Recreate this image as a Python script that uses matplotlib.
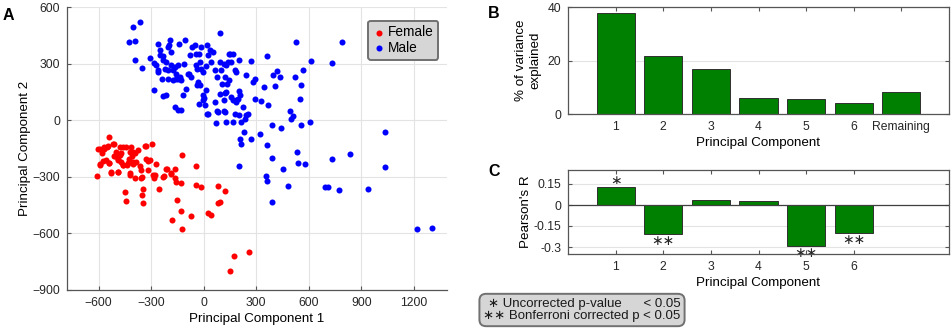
import numpy as np
import matplotlib
matplotlib.use('Agg')
import matplotlib.pyplot as plt

plt.rcParams['font.family'] = ['Liberation Sans', 'DejaVu Sans']

#%% data
# panel A: PCA scores (PC1, PC2)
female = np.array([
    (-608, -297), (-593, -155), (-593, -235), (-578, -173), (-570, -141), (-559, -212),
    (-540, -88), (-540, -226), (-530, -279), (-549, -141), (-511, -124), (-507, -191),
    (-498, -168), (-488, -208), (-488, -274), (-479, -141), (-479, -185), (-469, -173),
    (-469, -221), (-460, -238), (-450, -379), (-445, -429), (-441, -141), (-437, -238),
    (-426, -208), (-422, -282), (-412, -141), (-407, -191), (-403, -168), (-403, -230),
    (-393, -309), (-393, -173), (-388, -221), (-374, -159), (-365, -244), (-355, -265),
    (-355, -309), (-346, -367), (-349, -397), (-346, -441), (-332, -138), (-327, -208),
    (-317, -265), (-308, -212), (-294, -127), (-291, -291), (-282, -309), (-270, -230),
    (-257, -367), (-232, -300), (-213, -261), (-184, -282), (-165, -309), (-165, -261),
    (-156, -326), (-152, -424), (-127, -335), (-122, -182), (-127, -480), (-122, -579),
    (-179, -530), (-70, -508), (-42, -242), (-42, -344), (-13, -353), (25, -491),
    (44, -500), (82, -348), (82, -441), (91, -434), (120, -374), (150, -798),
    (171, -720), (258, -699),
    (-571, -150), (-547, -138), (-518, -127), (-461, -144), (-423, -168), (-509, -190),
    (-490, -212), (-575, -215), (-461, -238), (-432, -229), (-404, -220), (-331, -138),
    (-318, -215), (-527, -277), (-490, -273), (-419, -291), (-350, -303), (-280, -291),
    (-227, -296), (-207, -261), (-185, -287), (-604, -155), (-594, -233), (-541, -226),
])

male = np.array([
    (-403, 494), (-365, 519), (-426, 415), (-393, 420), (-393, 318), (-350, 279),
    (-308, 332), (-285, 304), (-285, 162), (-260, 406), (-251, 374), (-260, 256),
    (-247, 344), (-232, 318), (-236, 221), (-232, 127), (-213, 136), (-203, 388),
    (-194, 424), (-184, 362), (-184, 291), (-203, 265), (-222, 274), (-175, 265),
    (-175, 212), (-165, 282), (-156, 247), (-160, 221), (-146, 295), (-137, 229),
    (-127, 212), (-141, 406), (-165, 71), (-146, 53), (-127, 53), (-118, 132),
    (-108, 424), (-114, 300), (-99, 168), (-84, 247), (-70, 229), (-80, 344),
    (-65, 388), (-51, 397), (-42, 291), (-38, 185), (-32, 203), (-27, 353),
    (-23, 309), (-13, 274), (-4, 256), (-17, 388), (-4, 106), (6, 79),
    (11, 159), (-4, 132), (19, 397), (25, 344), (25, 35), (34, 371),
    (44, 309), (53, 362), (63, 97), (68, 265), (72, -14), (76, 229),
    (82, 44), (91, 141), (95, 462), (95, 309), (101, 265), (106, 194),
    (114, 106), (120, 44), (114, 300), (125, 229), (129, 150), (139, 309),
    (144, 212), (148, 353), (158, 124), (167, 353), (167, 106), (167, -9),
    (177, 265), (186, 97), (196, 115), (201, 318), (201, 155), (205, 26),
    (209, -97), (209, 132), (215, -124), (205, -244), (224, 71), (228, -62),
    (234, 9), (243, 26), (253, 35), (272, 314), (272, -97), (285, 203),
    (291, 221), (296, 115),
    (324, -72), (330, 104), (343, 174), (362, 340), (361, -132), (356, -298),
    (362, -322), (370, 80), (388, -25), (389, -201), (393, -432), (398, 237),
    (407, 181), (420, 259), (436, 229), (444, -39), (455, -259), (481, -351),
    (493, 48), (510, 21), (497, 7), (520, 230), (530, 415), (533, -168),
    (537, -225), (552, 115), (555, -25), (558, 188), (568, 265), (579, -233),
    (606, -11), (615, 314), (694, -355), (711, -352), (731, 304), (735, -205),
    (774, -370), (788, 415), (834, -180), (940, -364), (1034, -65), (1034, -248),
    (1217, -578), (1307, -570),
    (-232, 340), (-213, 308), (-261, 264), (-204, 220), (-147, 220), (-90, 247),
    (-42, 353), (-38, 273), (15, 286), (-19, 185), (0, 120), (-27, 88),
    (19, 32), (76, 49), (114, 49), (126, 291), (135, 190), (120, 144),
    (154, 308), (187, 256), (244, 238), (177, 32), (130, -9), (215, -12),
    (183, 109), (145, 353), (-198, 397), (-270, 291),
])

# panel B: variance explained
pc_labels = ['1', '2', '3', '4', '5', '6', 'Remaining']
var_explained = [37.6, 21.5, 16.9, 5.8, 5.7, 4.2, 8.3]

# panel C: correlation with sex
pc_corr_labels = ['1', '2', '3', '4', '5', '6']
pearson_r = [0.126, -0.206, 0.034, 0.027, -0.29, -0.198]
sig_marks = ['\u2217', '\u2217\u2217', '', '', '\u2217\u2217', '\u2217\u2217']

#%% style
W, H = 953, 332
axcol = '#555555'
gridcol = '#e3e3e3'
tickfs = 8.7
labfs = 9.6
green = '#008000'


def px_axes(fig, l, t, r, b):
    return fig.add_axes([l / W, (H - b) / H, (r - l) / W, (b - t) / H])


def style_ax(ax, box=True):
    for s in ax.spines.values():
        s.set_color(axcol)
        s.set_linewidth(0.9)
    if not box:
        ax.spines['top'].set_visible(False)
        ax.spines['right'].set_visible(False)
    ax.tick_params(direction='in', length=3, width=0.8, color=axcol,
                   labelsize=tickfs, labelcolor='#262626', pad=5,
                   top=box, right=box)
    ax.set_axisbelow(True)


fig = plt.figure(figsize=(W / 100, H / 100), dpi=100)

#%% A
axA = px_axes(fig, 67, 7, 447, 290)
axA.scatter(female[:, 0], female[:, 1], s=19, c='#ff0000', lw=0, label='Female')
axA.scatter(male[:, 0], male[:, 1], s=19, c='#0000ff', lw=0, label='Male')
axA.set_xlim(-780, 1390)
axA.set_ylim(-900, 600)
axA.set_xticks([-600, -300, 0, 300, 600, 900, 1200])
axA.set_yticks([-900, -600, -300, 0, 300, 600])
axA.grid(True, color=gridcol, lw=0.8)
style_ax(axA, box=False)
axA.set_xlabel('Principal Component 1', fontsize=labfs, labelpad=3)
axA.set_ylabel('Principal Component 2', fontsize=labfs, labelpad=1)
leg = axA.legend(loc='upper right', bbox_to_anchor=(0.977, 0.952), borderaxespad=0,
                 fontsize=9.8, handletextpad=0.2, handlelength=0.9, borderpad=0.35,
                 labelspacing=0.12, fancybox=True, markerscale=1.0)
leg.get_frame().set_facecolor('#d6d6d6')
leg.get_frame().set_edgecolor('#707070')
leg.get_frame().set_linewidth(1.4)
leg.get_frame().set_alpha(1)

#%% B
axB = px_axes(fig, 568, 7, 949, 114)
xb = np.arange(1, len(var_explained) + 1)
axB.bar(xb, var_explained, width=0.8, color=green, edgecolor='#303030', lw=0.7)
axB.set_xlim(0, 8)
axB.set_ylim(0, 40)
axB.set_xticks(xb)
axB.set_xticklabels(pc_labels)
axB.set_yticks([0, 20, 40])
axB.yaxis.grid(True, color=gridcol, lw=0.8)
style_ax(axB)
axB.set_xlabel('Principal Component', fontsize=labfs, labelpad=3)
axB.set_ylabel('% of variance\nexplained', fontsize=labfs, labelpad=4, linespacing=1.35)

#%% C
axC = px_axes(fig, 568, 170, 949, 254)
xc = np.arange(1, len(pearson_r) + 1)
axC.bar(xc, pearson_r, width=0.8, color=green, edgecolor='#303030', lw=0.7)
axC.axhline(0, color='#404040', lw=0.9, zorder=1.5)
for xi, r, m in zip(xc, pearson_r, sig_marks):
    if m:
        yy = r + 0.045 if r > 0 else r - 0.05
        axC.text(xi, yy, m, ha='center', va='center', fontsize=10,
                 color='#262626', clip_on=False, zorder=0.5)
axC.set_xlim(0, 8)
axC.set_ylim(-0.35, 0.25)
axC.set_xticks(xc)
axC.set_xticklabels(pc_corr_labels)
axC.set_yticks([-0.3, -0.15, 0, 0.15])
axC.set_yticklabels(['-0.3', '-0.15', '0', '0.15'])
axC.yaxis.grid(True, color=gridcol, lw=0.8)
style_ax(axC)
axC.set_xlabel('Principal Component', fontsize=labfs, labelpad=3)
axC.set_ylabel("Pearson's R", fontsize=labfs, labelpad=1)

# significance key
fig.text(582 / W, 1 - 310 / H,
         '\u2217 Uncorrected p-value      < 0.05\n\u2217\u2217 Bonferroni corrected p < 0.05',
         ha='center', va='center', multialignment='right', fontsize=9.5,
         color='#1a1a1a', linespacing=1.05,
         bbox=dict(boxstyle='round,pad=0.3,rounding_size=0.5', fc='#d6d6d6',
                   ec='#707070', lw=1.4))

# panel letters
for lab, x, y in [('A', 3, 15), ('B', 488, 13), ('C', 488, 172)]:
    fig.text(x / W, 1 - y / H, lab, fontsize=11.5, fontweight='bold',
             ha='left', va='center')

fig.savefig('out.png', dpi=100)
